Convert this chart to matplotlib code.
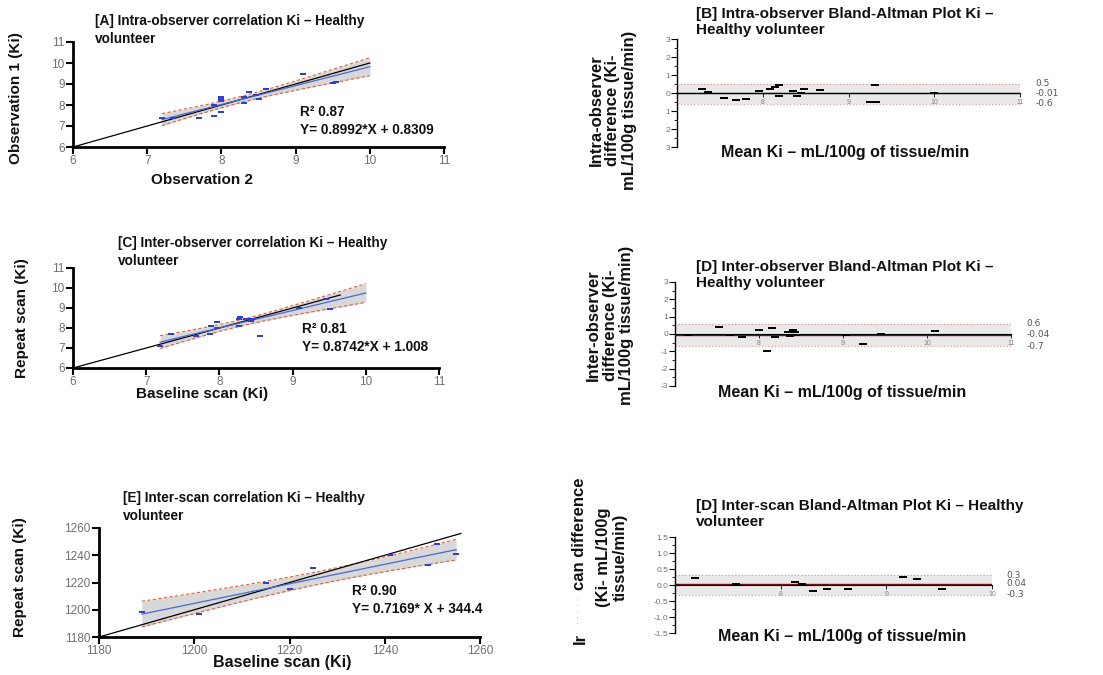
import numpy as np
import matplotlib.pyplot as plt

plt.rcParams['font.family'] = ['Liberation Sans', 'DejaVu Sans']

W, H = 1103, 675

# [A] intra-observer correlation
obs2_a = [7.2, 7.35, 7.7, 7.9, 7.9, 8.0, 8.0, 8.0, 8.0, 8.3, 8.3, 8.37, 8.46, 8.5, 8.6, 9.1, 9.5, 9.55]
obs1_a = [7.4, 7.4, 7.4, 7.5, 8.0, 7.65, 8.2, 8.3, 8.4, 8.1, 8.4, 8.6, 8.47, 8.3, 8.75, 9.5, 9.03, 9.1]
fit_a = (0.8992, 0.8309)
r2_a = 0.87

# [C] inter-observer correlation
base_c = [7.19, 7.34, 7.68, 7.87, 7.88, 7.97, 7.97, 8.27, 8.27, 8.28, 8.36, 8.43, 8.45, 8.56, 9.09, 9.46, 9.51]
rep_c = [7.11, 7.7, 7.62, 7.7, 8.11, 8.3, 8.02, 8.11, 8.46, 8.54, 8.46, 8.33, 8.43, 7.59, 9.02, 9.44, 8.94]
fit_c = (0.8742, 1.008)
r2_c = 0.81

# [E] inter-scan correlation
base_e = [1189, 1201, 1215, 1220, 1225, 1241, 1249, 1251, 1255]
rep_e = [1198, 1197, 1220, 1215, 1231, 1240, 1233, 1248, 1241]
fit_e = (0.7169, 344.4)
r2_e = 0.90

# [B] intra-observer Bland-Altman
mean_b = [7.29, 7.36, 7.55, 7.69, 7.81, 7.96, 8.09, 8.14, 8.19, 8.19, 8.35, 8.4, 8.45, 8.48, 8.67, 9.25, 9.32, 9.31, 10.0]
diff_b = [0.23, 0.06, -0.28, -0.4, -0.32, 0.13, 0.23, 0.32, 0.43, -0.19, 0.13, -0.19, 0.0, 0.23, 0.15, -0.51, -0.51, 0.42, 0.02]
loa_b = (0.5, -0.01, -0.6)

# [D] inter-observer Bland-Altman
mean_d = [7.16, 7.52, 7.65, 7.8, 8.0, 8.1, 8.15, 8.19, 8.35, 8.37, 8.4, 8.43, 8.44, 9.04, 9.24, 9.45, 10.1]
diff_d = [-0.08, 0.38, -0.08, -0.19, 0.21, -0.97, 0.34, -0.19, 0.11, -0.13, 0.21, 0.11, -0.08, -0.08, -0.57, 0.0, 0.17]
loa_d = (0.6, -0.04, -0.7)

# inter-scan Bland-Altman
mean_f = [7.19, 7.58, 8.14, 8.2, 8.31, 8.44, 8.64, 9.16, 9.29, 9.53]
diff_f = [0.21, 0.02, 0.08, 0.04, -0.19, -0.11, -0.11, 0.26, 0.2, -0.12]
loa_f = (0.3, 0.04, -0.3)

dash = [(-1, -0.4), (1, -0.4), (1, 0.4), (-1, 0.4)]

fig = plt.figure(figsize=(W / 100, H / 100), dpi=100)


def box(left, top, right, bottom):
    return [left / W, 1 - bottom / H, (right - left) / W, (bottom - top) / H]


def put(x, y, s, **kw):
    fig.text(x / W, 1 - y / H, s, **kw)


def ci_half(x, y, slope, icpt, xs):
    n = len(x)
    resid = y - (slope * x + icpt)
    s = np.sqrt(np.sum(resid ** 2) / (n - 2))
    sxx = np.sum((x - x.mean()) ** 2)
    return 2.1 * s * np.sqrt(1 / n + (xs - x.mean()) ** 2 / sxx)


def corr_panel(rect, x, y, fit, lims, ticks, band_end, id_end):
    ax = fig.add_axes(box(*rect))
    x = np.asarray(x, float)
    y = np.asarray(y, float)
    slope, icpt = fit
    xs = np.linspace(x.min(), band_end, 60)
    line = slope * xs + icpt
    half = ci_half(x, y, slope, icpt, xs)
    ax.fill_between(xs, line - half, line + half, color='#d8d8d8', lw=0)
    ax.plot(xs, line + half, color='#e0603a', lw=0.8, dashes=(3, 2))
    ax.plot(xs, line - half, color='#e0603a', lw=0.8, dashes=(3, 2))
    ax.plot([lims[0], id_end], [lims[0], id_end], color='black', lw=0.9)
    ax.plot(xs, line, color='#4a68d6', lw=0.9)
    ax.plot(x, y, ls='none', marker=dash, ms=4.8, color='#2f3fcf', mew=0)
    ax.set_xlim(*lims)
    ax.set_ylim(*lims)
    ax.set_xticks(ticks)
    ax.set_yticks(ticks)
    for sp in ['top', 'right']:
        ax.spines[sp].set_visible(False)
    for sp in ['left', 'bottom']:
        ax.spines[sp].set_linewidth(2)
    ax.tick_params(length=5, width=1.5, labelsize=8.5, labelcolor='#707070', pad=1)
    ax.patch.set_alpha(0)
    return ax


def ba_panel(rect, means, diffs, loa, xlim, ylim, yticks, ylabels, minor, bias_color):
    ax = fig.add_axes(box(*rect))
    upper, bias, lower = loa
    ax.axhspan(lower, upper, color='#e9e9e9', lw=0)
    ax.axhline(upper, color='#e79a9a', ls=':', lw=0.9)
    ax.axhline(lower, color='#e79a9a', ls=':', lw=0.9)
    ax.axhline(bias, color=bias_color, lw=1.0)
    ax.plot(means, diffs, ls='none', marker=dash, ms=5.2, color='black', mew=0)
    ax.set_xlim(*xlim)
    ax.set_ylim(*ylim)
    ax.set_yticks(yticks)
    ax.set_yticklabels(ylabels)
    ax.set_yticks(minor, minor=True)
    ax.set_xticks(np.arange(xlim[0] + 1, xlim[1] + 1))
    for sp in ['top', 'right']:
        ax.spines[sp].set_visible(False)
    ax.spines['bottom'].set_position(('data', 0))
    ax.spines['bottom'].set_linewidth(0.8)
    ax.spines['left'].set_linewidth(1.0)
    ax.tick_params(axis='y', length=4, width=0.8, labelsize=6, labelcolor='#707070', pad=1)
    ax.tick_params(axis='y', which='minor', length=2.5, width=0.6)
    ax.tick_params(axis='x', length=3, width=0.6, labelsize=5, labelcolor='#808080', pad=1)
    for v in loa:
        ax.text(1.045, v, f'{v:g}', transform=ax.get_yaxis_transform(),
                fontsize=6.5, color='#555555', va='center', ha='left',
                family='DejaVu Sans')
    ax.patch.set_alpha(0)
    return ax


bold = dict(fontweight='bold', color='#111111')
left_title = dict(fontsize=9.8, va='top', linespacing=1.35, **bold)
right_title = dict(fontsize=11, va='top', linespacing=1.15, **bold)

# ---- left column: correlations ----
corr_panel((73, 42, 444, 147), obs2_a, obs1_a, fit_a, (6, 11), range(6, 12), 10, 10)
put(95, 14, '[A] Intra-observer correlation Ki – Healthy\nvolunteer', **left_title)
put(16, 98, 'Observation 1 (Ki)', fontsize=11, rotation=90, ha='center', va='center', **bold)
put(202, 180, 'Observation 2', fontsize=11, ha='center', va='center', **bold)
put(300, 112, f'R² {r2_a:.2f}', fontsize=9.8, va='center', **bold)
put(300, 130, f'Y= {fit_a[0]}*X + {fit_a[1]}', fontsize=9.8, va='center', **bold)

corr_panel((73, 268, 439, 368), base_c, rep_c, fit_c, (6, 11), range(6, 12), 10, 9.65)
put(118, 236, '[C] Inter-observer correlation Ki – Healthy\nvolunteer', **left_title)
put(22, 318, 'Repeat scan (Ki)', fontsize=11, rotation=90, ha='center', va='center', **bold)
put(202, 394, 'Baseline scan (Ki)', fontsize=11, ha='center', va='center', **bold)
put(302, 329, f'R² {r2_c:.2f}', fontsize=9.8, va='center', **bold)
put(302, 347, f'Y= {fit_c[0]}*X + {fit_c[1]}', fontsize=9.8, va='center', **bold)

corr_panel((99, 528, 480, 637), base_e, rep_e, fit_e, (1180, 1260), range(1180, 1261, 20), 1255, 1256)
put(123, 491, '[E] Inter-scan correlation Ki – Healthy\nvolunteer', **left_title)
put(20, 577, 'Repeat scan (Ki)', fontsize=11, rotation=90, ha='center', va='center', **bold)
put(282, 663, 'Baseline scan (Ki)', fontsize=11.5, ha='center', va='center', **bold)
put(352, 591, f'R² {r2_e:.2f}', fontsize=9.8, va='center', **bold)
put(352, 609, f'Y= {fit_e[0]}* X + {fit_e[1]}', fontsize=9.8, va='center', **bold)

# ---- right column: Bland-Altman ----
ba_panel((677, 39, 1020, 147), mean_b, diff_b, loa_b, (7, 11), (-3, 3),
         [3, 2, 1, 0, -1, -2, -3], ['3', '2', '1', '0', '1', '2', '3'],
         np.arange(-2.5, 3, 1.0), 'black')
put(696, 7, '[B] Intra-observer Bland-Altman Plot Ki –\nHealthy volunteer', **right_title)
put(613, 110, 'Intra-observer\ndifference (Ki-\nmL/100g tissue/min)', fontsize=12, rotation=90,
    ha='center', va='center', linespacing=1.15, **bold)
put(845, 153, 'Mean Ki – mL/100g of tissue/min', fontsize=11.5, ha='center', va='center', **bold)

ba_panel((675, 282, 1011, 386), mean_d, diff_d, loa_d, (7, 11), (-3, 3),
         [3, 2, 1, 0, -1, -2, -3], ['3', '2', '1', '0', '-1', '-2', '-3'],
         np.arange(-2.5, 3, 1.0), '#7a1010')
put(696, 260, '[D] Inter-observer Bland-Altman Plot Ki –\nHealthy volunteer', **right_title)
put(610, 325, 'Inter-observer\ndifference (Ki-\nmL/100g tissue/min)', fontsize=12, rotation=90,
    ha='center', va='center', linespacing=1.15, **bold)
put(842, 393, 'Mean Ki – mL/100g of tissue/min', fontsize=11.5, ha='center', va='center', **bold)

ba_panel((675, 537, 992, 633), mean_f, diff_f, loa_f, (7, 10), (-1.5, 1.5),
         [1.5, 1.0, 0.5, 0.0, -0.5, -1.0, -1.5], ['1.5', '1.0', '0.5', '0.0', '-0.5', '-1.0', '-1.5'],
         np.arange(-1.25, 1.5, 0.5), '#7a1010')
put(696, 499, '[D] Inter-scan Bland-Altman Plot Ki – Healthy\nvolunteer', **right_title)
put(580, 644, 'Ir', fontsize=12, rotation=90, ha='center', va='bottom', **bold)
put(579, 611, '· · · · ·', fontsize=7, rotation=90, ha='center', va='center', color='#aaaaaa')
put(580, 590, 'can difference', fontsize=12, rotation=90, ha='center', va='bottom', **bold)
put(612, 557, '(Ki- mL/100g\ntissue/min)', fontsize=12, rotation=90, ha='center', va='center',
    linespacing=1.15, **bold)
put(842, 637, 'Mean Ki – mL/100g of tissue/min', fontsize=11.5, ha='center', va='center', **bold)

fig.savefig('out.png', dpi=100, facecolor='white')
